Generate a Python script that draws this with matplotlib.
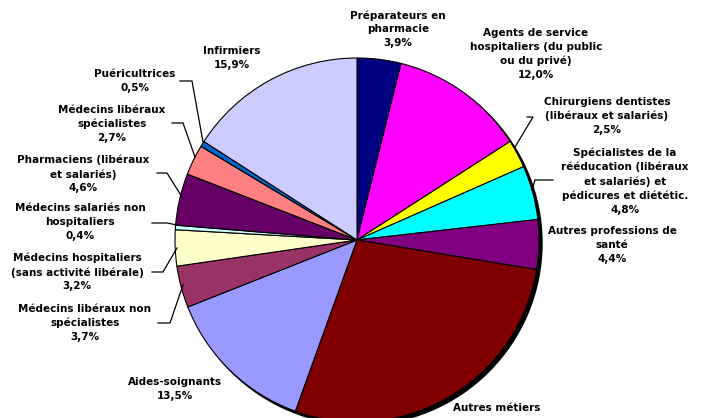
import matplotlib
matplotlib.use("Agg")
import matplotlib.pyplot as plt
from matplotlib.patches import Circle

categories = [
    "Préparateurs en\npharmacie",
    "Agents de service\nhospitaliers (du public\nou du privé)",
    "Chirurgiens dentistes\n(libéraux et salariés)",
    "Spécialistes de la\nrééducation (libéraux\net salariés) et\npédicures et diététic.",
    "Autres professions de\nsanté",
    "Autres métiers",
    "Aides-soignants",
    "Médecins libéraux non\nspécialistes",
    "Médecins hospitaliers\n(sans activité libérale)",
    "Médecins salariés non\nhospitaliers",
    "Pharmaciens (libéraux\net salariés)",
    "Médecins libéraux\nspécialistes",
    "Puéricultrices",
    "Infirmiers",
]
values = [3.9, 12.0, 2.5, 4.8, 4.4, 27.9, 13.5, 3.7, 3.2, 0.4, 4.6, 2.7, 0.5, 15.9]
colors = ["#000080", "#FF00FF", "#FFFF00", "#00FFFF", "#800080", "#800000",
          "#9999FF", "#993366", "#FFFFCC", "#CCFFFF", "#660066", "#FF8080",
          "#0066CC", "#CCCCFF"]

# label block centers (pixel coords, y down)
label_pos = [(398, 29), (536, 54), (607, 116), (625, 181), (612, 245),
             (497, 408), (175, 389), (85, 323), (77, 272), (80, 222),
             (83, 174), (112, 124), (135, 81), (232, 58)]
# leader lines (pixel coords)
leaders = {
    2: [(527, 117), (533, 117), (515, 147)],
    3: [(553, 180), (535, 180), (532, 190)],
    7: [(158, 323), (170, 323), (183, 285)],
    8: [(152, 272), (163, 272), (177, 248)],
    9: [(152, 223), (167, 223), (177, 225)],
    10: [(157, 173), (167, 173), (182, 197)],
    11: [(172, 123), (183, 123), (195, 157)],
    12: [(180, 81), (192, 81), (203, 142)],
}

W, H = 709, 418
fig = plt.figure(figsize=(W / 100, H / 100), dpi=100)
ax = fig.add_axes([0, 0, 1, 1])

cx, cy, r = 357, 240, 182
ax.add_patch(Circle((cx + 3, cy + 3), r, color="black", zorder=0))
ax.pie(values, colors=colors, startangle=-90, counterclock=True,
       center=(cx, cy), radius=r, frame=True,
       wedgeprops=dict(edgecolor="black", linewidth=0.8))
ax.set_xlim(0, W)
ax.set_ylim(H, 0)
ax.set_aspect("equal")
ax.axis("off")

for i, (cat, v) in enumerate(zip(categories, values)):
    x, y = label_pos[i]
    if i == 5:
        # percentage line of this label falls below the picture's edge
        txt = cat
    else:
        txt = cat + "\n" + f"{v:.1f}".replace(".", ",") + "%"
    ax.text(x, y, txt, ha="center", va="center", fontsize=7.5, fontweight="bold",
            family="DejaVu Sans", linespacing=1.45, color="black")

for i, pts in leaders.items():
    xs = [p[0] for p in pts]
    ys = [p[1] for p in pts]
    ax.plot(xs, ys, color="black", linewidth=0.9)

fig.savefig("out.png", dpi=100)
